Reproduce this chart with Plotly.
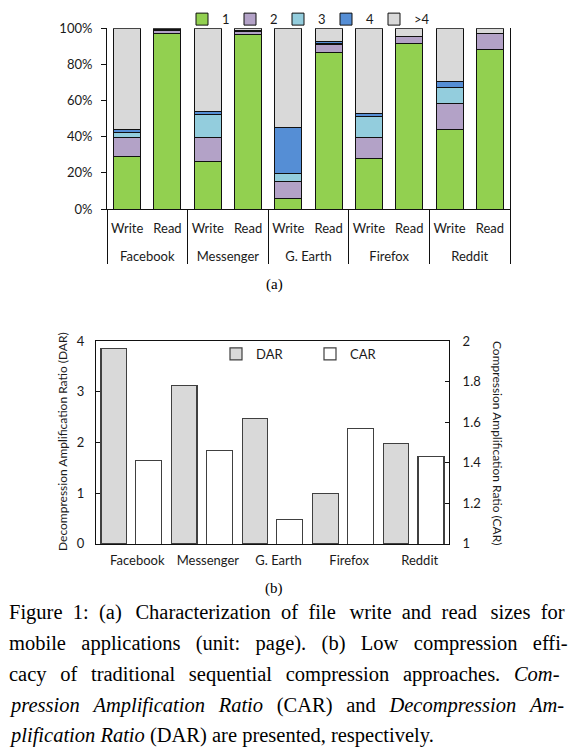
import plotly.graph_objects as go

W, H = 568, 752

# ---------------- data: (a) write/read size distribution ----------------
apps = ["Facebook", "Messenger", "G. Earth", "Firefox", "Reddit"]
ops = ["Write", "Read"]
size_names = ["1", "2", "3", "4", ">4"]
size_colors = ["#92d050", "#b3a2c7", "#93cddd", "#558ed5", "#d9d9d9"]
# order: FB-W, FB-R, Me-W, Me-R, GE-W, GE-R, FF-W, FF-R, RD-W, RD-R  (percent)
pct_1 = [29.0, 97.0, 26.4, 96.5, 5.9, 86.5, 28.2, 91.6, 44.0, 88.0]
pct_2 = [10.4, 1.6, 13.0, 1.4, 9.2, 4.6, 11.2, 4.0, 14.2, 9.1]
pct_3 = [3.0, 0.3, 12.7, 0.3, 4.8, 0.5, 11.6, 0.0, 9.2, 0.0]
pct_4 = [1.8, 0.5, 1.9, 0.6, 25.4, 1.0, 1.9, 0.0, 3.3, 0.0]
pct_gt4 = [55.8, 0.6, 46.0, 1.2, 54.7, 7.4, 47.1, 4.4, 29.3, 2.9]

# ---------------- data: (b) DAR / CAR ----------------
dar = [3.85, 3.13, 2.47, 1.0, 1.98]
car = [1.41, 1.46, 1.12, 1.57, 1.43]

# ---------------- helpers ----------------
# the captured page is slightly compressed vertically (page taller than viewport);
# compensate so that positions land where intended in the picture
VS = 752 / 768
VOFF = 8


def px_x(p):
    return p / W


def px_y(p):
    return 1 - (p / VS - VOFF) / H


FONT = "Lato"
TXT = "#1a1a1a"
SYM_OFF = 20  # legend x -> symbol centre offset (px)

fig = go.Figure()

# outer (application) labels sit one text line lower, as in the original
outer = ["\u00a0<br>" + a for a in apps for _ in ops]
inner = [o for _ in apps for o in ops]

top_leg_ids = ["legend", "legend3", "legend4", "legend5", "legend6"]
top_leg_x = [202, 250, 298, 346, 394]  # symbol centres (px)

for nm, col, vals, lid in zip(size_names, size_colors,
                              [pct_1, pct_2, pct_3, pct_4, pct_gt4], top_leg_ids):
    fig.add_trace(go.Bar(
        x=[outer, inner], y=vals, name=nm,
        marker=dict(color=col, line=dict(color="#111111", width=1)),
        width=0.67, xaxis="x", yaxis="y", legend=lid,
        hoverinfo="skip",
    ))

fig.add_trace(go.Bar(
    x=apps, y=dar, name="DAR",
    marker=dict(color="#d9d9d9", line=dict(color="#404040", width=1.2)),
    width=0.36, offset=-0.43, xaxis="x2", yaxis="y2", legend="legend2",
    hoverinfo="skip",
))
fig.add_trace(go.Bar(
    x=apps, y=car, name="CAR",
    marker=dict(color="#ffffff", line=dict(color="#404040", width=1.2)),
    width=0.37, offset=0.06, xaxis="x2", yaxis="y3", legend="legend7",
    hoverinfo="skip",
))

axis_common = dict(showgrid=False, zeroline=False, linecolor="#111111", linewidth=1,
                   tickfont=dict(family=FONT, size=13, color=TXT))


def leg(xc, yc):
    return dict(orientation="h", x=px_x(xc - SYM_OFF), y=px_y(yc), xanchor="left",
                yanchor="middle", bgcolor="rgba(0,0,0,0)", itemclick=False,
                font=dict(family=FONT, size=13, color=TXT))


layout_legends = {lid: leg(xc, 19) for lid, xc in zip(top_leg_ids, top_leg_x)}
layout_legends["legend2"] = leg(236, 354)
layout_legends["legend7"] = leg(330, 354)

fig.update_layout(
    width=W, height=H,
    margin=dict(l=0, r=0, t=0, b=0),
    paper_bgcolor="white", plot_bgcolor="white",
    barmode="stack",
    font=dict(family=FONT, size=13, color=TXT),
    xaxis=dict(domain=[px_x(107), px_x(510)], anchor="y", type="multicategory",
               showline=True, ticks="", showdividers=True, dividercolor="#111111",
               dividerwidth=1, range=[-0.5, 9.5], tickangle=0,
               ticklabelstandoff=7, **axis_common),
    yaxis=dict(domain=[px_y(209), px_y(28)], anchor="x", range=[0, 100], dtick=20,
               ticksuffix="%", ticks="outside", ticklen=5, tickcolor="#111111",
               showline=True, mirror=True, ticklabelstandoff=6, **axis_common),
    xaxis2=dict(domain=[px_x(96), px_x(449)], anchor="y2", type="category",
                range=[-0.5, 4.5], showline=True, mirror=True, ticks="",
                ticklabelstandoff=4, ticklabelshift=6, **axis_common),
    yaxis2=dict(domain=[px_y(544), px_y(341)], anchor="x2", range=[0, 4], dtick=1,
                ticks="inside", ticklen=4, tickcolor="#111111", showline=True,
                ticklabelstandoff=8, **axis_common),
    yaxis3=dict(overlaying="y2", side="right", anchor="x2", range=[1, 2], dtick=0.2,
                ticks="inside", ticklen=4, tickcolor="#111111", showline=True,
                ticklabelstandoff=10, **axis_common),
    showlegend=True,
    **layout_legends,
)

ann = []
ann.append(dict(text="Decompression Amplification Ratio (DAR)", x=px_x(63), y=px_y(442),
                xref="paper", yref="paper", xanchor="center", yanchor="middle",
                textangle=-90, showarrow=False,
                font=dict(family=FONT, size=12, color=TXT)))
ann.append(dict(text="Compression Amplification Ratio (CAR)", x=px_x(497), y=px_y(443),
                xref="paper", yref="paper", xanchor="center", yanchor="middle",
                textangle=90, showarrow=False,
                font=dict(family=FONT, size=12, color=TXT)))
ann.append(dict(text="(a)", x=px_x(274), y=px_y(284), xref="paper", yref="paper",
                xanchor="center", yanchor="middle",
                showarrow=False, font=dict(family="Liberation Serif", size=15, color="black")))
ann.append(dict(text="(b)", x=px_x(274), y=px_y(589), xref="paper", yref="paper",
                xanchor="center", yanchor="middle",
                showarrow=False, font=dict(family="Liberation Serif", size=15, color="black")))

# caption (justified in the original: widen word gaps a little)
G1 = " \u00a0"
G1b = " \u00a0\u2006"
G2 = " \u00a0\u00a0"
G3 = " \u00a0\u2006"
w1 = "Figure 1: (a) Characterization of file write and read sizes for".split(" ")
line1_txt = w1[0]
for i, w in enumerate(w1[1:], start=1):
    line1_txt += (G1b if i in (3, 6, 9) else G1) + w
caption_lines = [
    line1_txt,
    G2.join("mobile applications (unit: page). (b) Low compression effi-".split(" ")),
    G3.join("cacy of traditional sequential compression approaches. <i>Com-</i>".split(" ")),
    G3.join("<i>pression Amplification Ratio</i> (CAR) and <i>Decompression Am-</i>".split(" ")),
    "<i>plification Ratio</i> (DAR) are presented, respectively.",
]
caption_y = [613, 644, 675, 706, 736]
for line, cy in zip(caption_lines, caption_y):
    ann.append(dict(text=line, x=px_x(7), y=px_y(cy), xref="paper", yref="paper",
                    xanchor="left", yanchor="middle", showarrow=False,
                    font=dict(family="Liberation Serif", size=20.5, color="black")))

fig.update_layout(annotations=ann)

fig.write_html("out.html")
